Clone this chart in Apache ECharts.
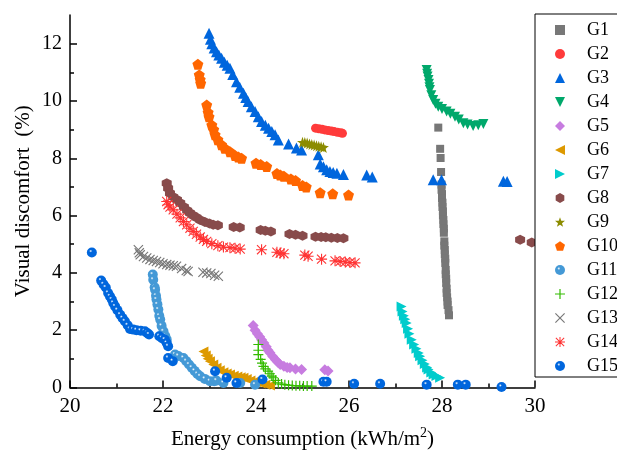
<!DOCTYPE html>
<html><head><meta charset="utf-8">
<script src="https://cdn.jsdelivr.net/npm/echarts@6/dist/echarts.min.js"></script>
<style>html,body{margin:0;padding:0;background:#fff}#c{width:617px;height:455px}</style>
</head><body><div id="c"></div>
<script>
const seriesNames = ['G1','G2','G3','G4','G5','G6','G7','G8','G9','G10','G11','G12','G13','G14','G15'];
const xTicks = [20,22,24,26,28,30];
const yMajorTicks = [0,2,4,6,8,10,12];
const yMinorTicks = [1,3,5,7,9,11];

const G1 = [[27.92,9.07],[27.96,8.33],[27.97,8.01],[27.98,7.52],[27.99,7.08],[27.99,6.9],[28.0,6.75],[28.0,6.6],[28.01,6.45],[28.01,6.3],[28.02,6.15],[28.02,6.0],[28.03,5.85],[28.03,5.7],[28.04,5.55],[28.04,5.4],[28.05,5.1],[28.05,4.95],[28.06,4.8],[28.06,4.65],[28.07,4.5],[28.07,4.35],[28.08,4.1],[28.08,3.95],[28.09,3.8],[28.09,3.65],[28.1,3.45],[28.1,3.3],[28.11,3.15],[28.12,3.0],[28.12,2.88],[28.14,2.7],[28.15,2.52]];
const G2 = [[25.28,9.05],[25.35,9.03],[25.42,9.01],[25.48,8.99],[25.55,8.97],[25.62,8.95],[25.68,8.93],[25.75,8.91],[25.82,8.89],[25.86,8.87]];
const G3 = [[22.99,12.36],[23.02,12.15],[23.05,12.0],[23.1,11.85],[23.15,11.72],[23.2,11.6],[23.26,11.49],[23.32,11.35],[23.38,11.25],[23.44,11.14],[23.5,10.92],[23.58,10.67],[23.65,10.48],[23.73,10.27],[23.78,10.12],[23.83,9.98],[23.9,9.8],[23.98,9.63],[24.05,9.45],[24.12,9.28],[24.2,9.15],[24.27,9.05],[24.34,8.93],[24.41,8.82],[24.48,8.64],[24.7,8.5],[24.87,8.36],[24.98,8.29],[25.34,8.12],[25.38,7.8],[25.45,7.7],[25.52,7.6],[25.59,7.54],[25.66,7.5],[25.74,7.48],[25.88,7.43],[26.38,7.42],[26.5,7.35],[27.81,7.25],[27.99,7.25],[29.32,7.2],[29.4,7.19]];
const G4 = [[27.67,11.08],[27.68,10.95],[27.69,10.85],[27.71,10.73],[27.72,10.6],[27.73,10.48],[27.74,10.38],[27.77,10.2],[27.81,10.03],[27.86,9.9],[27.92,9.8],[28.0,9.72],[28.1,9.63],[28.18,9.55],[28.28,9.45],[28.36,9.35],[28.46,9.22],[28.55,9.18],[28.67,9.13],[28.78,9.15],[28.89,9.2]];
const G5 = [[23.94,2.16],[23.98,2.0],[24.03,1.88],[24.08,1.77],[24.12,1.67],[24.17,1.55],[24.22,1.42],[24.26,1.3],[24.3,1.21],[24.36,1.08],[24.42,0.97],[24.47,0.88],[24.52,0.8],[24.6,0.74],[24.67,0.7],[24.73,0.69],[24.85,0.65],[24.98,0.63],[25.48,0.62],[25.55,0.58]];
const G6 = [[22.87,1.26],[22.92,1.12],[22.96,1.0],[23.01,0.92],[23.08,0.8],[23.15,0.69],[23.22,0.6],[23.3,0.53],[23.37,0.49],[23.44,0.45],[23.52,0.41],[23.6,0.38],[23.67,0.36],[23.73,0.34],[23.8,0.3],[23.88,0.24],[23.95,0.2],[24.01,0.18],[24.1,0.14],[24.2,0.1],[24.3,0.07]];
const G7 = [[27.13,2.83],[27.15,2.65],[27.18,2.5],[27.21,2.38],[27.24,2.25],[27.27,2.05],[27.3,1.88],[27.35,1.67],[27.4,1.5],[27.45,1.35],[27.5,1.2],[27.53,1.09],[27.58,0.95],[27.63,0.82],[27.68,0.7],[27.71,0.63],[27.77,0.52],[27.82,0.45],[27.88,0.4],[27.96,0.34]];
const G8 = [[22.08,7.13],[22.11,6.95],[22.15,6.78],[22.22,6.65],[22.3,6.55],[22.37,6.44],[22.45,6.3],[22.52,6.18],[22.58,6.09],[22.65,6.0],[22.72,5.93],[22.8,5.85],[22.9,5.78],[23.0,5.72],[23.08,5.68],[23.18,5.66],[23.52,5.6],[23.65,5.58],[24.1,5.5],[24.2,5.47],[24.32,5.44],[24.72,5.36],[24.85,5.33],[25.0,5.3],[25.28,5.26],[25.4,5.25],[25.5,5.24],[25.62,5.23],[25.75,5.22],[25.88,5.21],[29.68,5.16],[29.93,5.06]];
const G9 = [[25.0,8.56],[25.05,8.55],[25.1,8.53],[25.15,8.5],[25.2,8.48],[25.25,8.46],[25.3,8.44],[25.35,8.42],[25.4,8.4],[25.45,8.38]];
const G10 = [[22.75,11.28],[22.78,10.91],[22.8,10.75],[22.81,10.62],[22.94,9.86],[22.97,9.6],[22.99,9.45],[23.05,9.16],[23.09,9.0],[23.12,8.82],[23.18,8.65],[23.26,8.47],[23.33,8.35],[23.44,8.23],[23.55,8.1],[23.62,8.04],[23.69,8.0],[24.0,7.83],[24.1,7.78],[24.23,7.71],[24.45,7.47],[24.52,7.42],[24.6,7.37],[24.75,7.28],[24.85,7.22],[25.0,7.05],[25.08,7.0],[25.38,6.8],[25.65,6.76],[25.99,6.72]];
const G11 = [[21.78,3.94],[21.79,3.76],[21.82,3.5],[21.83,3.41],[21.85,3.2],[21.86,3.07],[21.88,2.9],[21.9,2.72],[21.92,2.5],[21.94,2.37],[21.97,2.15],[22.01,1.96],[22.05,1.8],[22.08,1.67],[22.26,1.15],[22.33,1.1],[22.44,1.03],[22.5,0.92],[22.56,0.8],[22.62,0.69],[22.68,0.58],[22.74,0.47],[22.8,0.39],[22.9,0.3],[23.01,0.22],[23.1,0.22],[23.15,0.24],[23.3,0.16],[23.66,0.16],[23.98,0.1]];
const G12 = [[24.05,1.5],[24.05,1.3],[24.05,1.15],[24.1,0.98],[24.13,0.85],[24.16,0.74],[24.2,0.65],[24.26,0.57],[24.3,0.48],[24.34,0.4],[24.37,0.34],[24.42,0.25],[24.48,0.16],[24.55,0.12],[24.62,0.1],[24.7,0.08],[24.78,0.07],[24.86,0.06],[24.94,0.06],[25.02,0.05],[25.1,0.05],[25.2,0.05]];
const G13 = [[21.47,4.81],[21.49,4.7],[21.51,4.63],[21.58,4.57],[21.65,4.52],[21.72,4.47],[21.79,4.43],[21.86,4.4],[21.93,4.36],[22.0,4.32],[22.08,4.29],[22.15,4.27],[22.22,4.25],[22.29,4.23],[22.4,4.15],[22.5,4.08],[22.54,4.05],[22.86,4.02],[22.94,4.0],[23.03,3.98],[23.11,3.92],[23.19,3.88]];
const G14 = [[22.08,6.49],[22.11,6.38],[22.15,6.3],[22.22,6.2],[22.3,6.05],[22.37,5.92],[22.44,5.79],[22.51,5.68],[22.58,5.56],[22.65,5.45],[22.72,5.35],[22.8,5.25],[22.87,5.17],[22.94,5.1],[23.05,5.02],[23.18,4.95],[23.3,4.9],[23.44,4.88],[23.55,4.86],[23.66,4.83],[24.12,4.81],[24.45,4.72],[24.52,4.69],[24.6,4.67],[25.05,4.62],[25.12,4.58],[25.41,4.48],[25.7,4.42],[25.81,4.4],[25.92,4.38],[26.02,4.36],[26.13,4.35]];
const G15 = [[20.47,4.71],[20.67,3.73],[20.72,3.6],[20.77,3.49],[20.82,3.3],[20.86,3.18],[20.9,3.07],[20.93,2.95],[20.97,2.83],[21.02,2.7],[21.08,2.54],[21.13,2.42],[21.18,2.31],[21.24,2.17],[21.29,2.04],[21.36,2.02],[21.43,2.0],[21.52,1.98],[21.61,1.96],[21.66,1.9],[21.7,1.85],[21.92,1.79],[21.98,1.72],[22.04,1.67],[22.08,1.55],[22.11,1.44],[22.11,1.03],[22.21,0.92],[23.12,0.57],[23.37,0.34],[23.58,0.16],[24.14,0.28],[25.45,0.2],[25.52,0.2],[26.11,0.13],[26.67,0.13],[27.67,0.1],[28.34,0.1],[28.51,0.1],[29.28,0.02]];

const FONT = 'Liberation Serif';
function sphere(c){return {type:'radial',x:0.38,y:0.35,r:0.7,colorStops:[{offset:0,color:'#ffffff'},{offset:0.22,color:c},{offset:1,color:c}]};}
const P = {
  down:'path://M0,0L10,0L5,10Z',
  left:'path://M0,5L10,0L10,10Z',
  right:'path://M10,5L0,0L0,10Z',
  hex:'path://M5,0L9.33,2.5L9.33,7.5L5,10L0.67,7.5L0.67,2.5Z',
  pent:'path://M5,0L9.76,3.45L7.94,9.05L2.06,9.05L0.24,3.45Z',
  star:'path://M5,0L6.18,3.5L9.76,3.55L6.9,5.75L7.94,9.25L5,7.15L2.06,9.25L3.1,5.75L0.24,3.55L3.82,3.5Z',
  plus:'path://M4.4,0H5.6V4.4H10V5.6H5.6V10H4.4V5.6H0V4.4H4.4Z',
  cross:'path://M0,0.8L0.8,0L5,4.2L9.2,0L10,0.8L5.8,5L10,9.2L9.2,10L5,5.8L0.8,10L0,9.2L4.2,5Z',
  aster:'path://M4.5,0H5.5V4.5H10V5.5H5.5V10H4.5V5.5H0V4.5H4.5Z M1.2,0.5L5,4.3L8.8,0.5L9.5,1.2L5.7,5L9.5,8.8L8.8,9.5L5,5.7L1.2,9.5L0.5,8.8L4.3,5L0.5,1.2Z'
};
const defs = [
  [G1,'rect',8,'#777777'],
  [G2,'circle',9,'#FF3B3B'],
  [G3,'triangle',11,'#0066DD'],
  [G4,P.down,10,'#00A86B'],
  [G5,'diamond',11,'#C77CE0'],
  [G6,P.left,10,'#DD9900'],
  [G7,P.right,10,'#00CCCC'],
  [G8,P.hex,10,'#884B4B'],
  [G9,P.star,11,'#8C8C00'],
  [G10,P.pent,11,'#FF6600'],
  [G11,'circle',10,sphere('#4499D6')],
  [G12,P.plus,10,'#33BB00'],
  [G13,P.cross,10,'#777777'],
  [G14,P.aster,11,'#FF3333'],
  [G15,'circle',10,sphere('#0066DD')]
];
const series = defs.map((d,i)=>({
  name: seriesNames[i], type:'scatter', data:d[0], symbol:d[1], symbolSize:d[2],
  itemStyle:{color:d[3], opacity:1}, xAxisIndex:0, yAxisIndex:0
}));

const chart = echarts.init(document.getElementById('c'), null, {renderer:'canvas'});
chart.setOption({
  animation:false,
  backgroundColor:'#fff',
  textStyle:{fontFamily:FONT},
  grid:{left:70,right:82,top:15,bottom:67},
  legend:{
    orient:'vertical', left:535, top:14, padding:[7,30,2,20], itemGap:6,
    itemWidth:10, itemHeight:10, borderColor:'#000', borderWidth:1, backgroundColor:'#fff',
    textStyle:{fontFamily:FONT,fontSize:18,color:'#000',padding:[0,0,0,17]},
    data:seriesNames, z:10
  },
  xAxis:{
    type:'value', min:xTicks[0], max:xTicks[xTicks.length-1], interval:2,
    axisLine:{lineStyle:{color:'#000',width:1.5}},
    axisTick:{inside:true,length:7,lineStyle:{color:'#000',width:1.5}},
    minorTick:{show:true,splitNumber:2,length:4,lineStyle:{color:'#000',width:1.5}},
    splitLine:{show:false}, minorSplitLine:{show:false},
    axisLabel:{fontFamily:FONT,fontSize:21,color:'#000',margin:8},
    name:'Energy consumption (kWh/m{sup|2})', nameLocation:'middle', nameGap:39,
    nameTextStyle:{fontFamily:FONT,fontSize:21,color:'#000',rich:{sup:{fontFamily:FONT,fontSize:14,color:'#000',padding:[0,0,12,0]}}}
  },
  yAxis:[{
    type:'value', min:0, max:13,
    axisLine:{show:true,lineStyle:{color:'#000',width:1.5}},
    axisTick:{show:true,inside:true,length:7,customValues:yMajorTicks,lineStyle:{color:'#000',width:1.5}},
    axisLabel:{fontFamily:FONT,fontSize:20,color:'#000',margin:8,customValues:yMajorTicks},
    splitLine:{show:false},
    name:'Visual discomfort  (%)', nameLocation:'middle', nameGap:36, nameRotate:90, nameMoveOverlap:false,
    nameTextStyle:{fontFamily:FONT,fontSize:21,color:'#000'}
  },{
    type:'value', min:0, max:13, position:'left', offset:0,
    axisLine:{show:false}, axisLabel:{show:false}, splitLine:{show:false},
    axisTick:{show:true,inside:true,length:4,customValues:yMinorTicks,lineStyle:{color:'#000',width:1.5}}
  }],
  series:series
});
</script></body></html>
